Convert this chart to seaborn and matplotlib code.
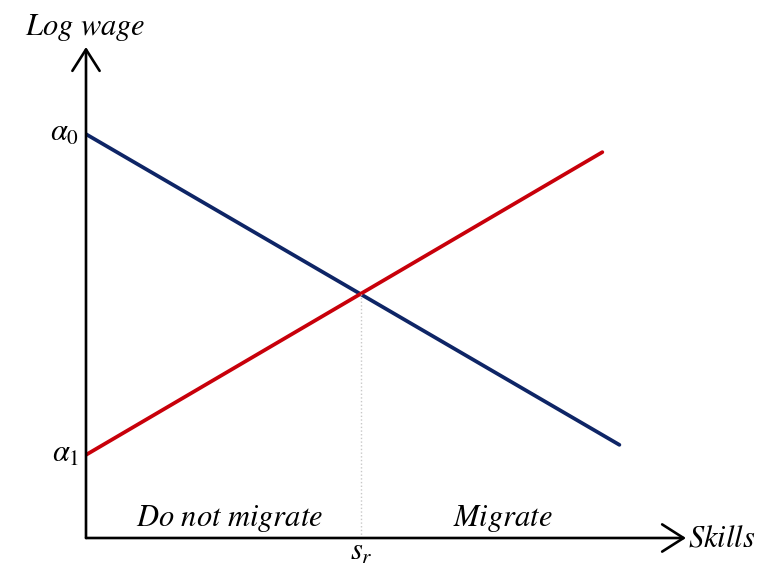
import numpy as np
import pandas as pd
import matplotlib
matplotlib.use("Agg")
import matplotlib.pyplot as plt
import seaborn as sns

# values (skill units on x, log-wage units on y)
alpha0 = 10.1
alpha1 = 2.08
s_r = 5.0
w_r = 6.1
stay_x = [0.0, 9.69]
stay_y = [alpha0, 2.33]
move_x = [0.0, 9.38]
move_y = [alpha1, 9.65]
x_max = 10.9
y_max = 12.28

df = pd.concat([
    pd.DataFrame({"skills": stay_x, "wage": stay_y, "line": "stay"}),
    pd.DataFrame({"skills": move_x, "wage": move_y, "line": "move"}),
])

sns.set_theme(style="white")
plt.rcParams["mathtext.fontset"] = "stix"
plt.rcParams["font.family"] = ["STIXGeneral", "DejaVu Serif"]
plt.rcParams["text.color"] = "black"

fig = plt.figure(figsize=(7.58, 5.70), dpi=100)
ax = fig.add_axes([86 / 758, 32 / 570, 600 / 758, 491 / 570])

sns.lineplot(data=df, x="skills", y="wage", hue="line",
             palette={"stay": "#0e2566", "move": "#c8000a"},
             linewidth=2.7, legend=False, ax=ax)

ax.plot([s_r, s_r], [0, w_r], color="#c8c8c8", linestyle=":", linewidth=1.0)

ax.set_xlim(0, x_max)
ax.set_ylim(0, y_max)
for sp in ax.spines.values():
    sp.set_visible(False)
ax.set_xticks([])
ax.set_yticks([])
ax.set_xlabel("")
ax.set_ylabel("")

arrow = dict(arrowstyle="->,head_length=0.55,head_width=0.35", color="black",
             lw=1.9, mutation_scale=28, shrinkA=0, shrinkB=0)
ax.annotate("", xy=(x_max, 0), xytext=(0, 0), arrowprops=arrow, annotation_clip=False)
ax.annotate("", xy=(0, y_max), xytext=(0, 0), arrowprops=arrow, annotation_clip=False)

fs = 22
ax.text(-0.02, 12.78, r"$Log\ wage$", ha="center", va="center", fontsize=fs, clip_on=False)
ax.text(x_max + 0.04, -0.05, r"$Skills$", ha="left", va="center", fontsize=fs, clip_on=False)
ax.text(-0.13, alpha0, r"$\alpha_0$", ha="right", va="center", fontsize=fs, clip_on=False)
ax.text(-0.13, alpha1, r"$\alpha_1$", ha="right", va="center", fontsize=fs, clip_on=False)
ax.text(s_r, -0.38, r"$s_r$", ha="center", va="center", fontsize=fs, clip_on=False)
ax.text(2.6, 0.48, r"$Do\ not\ migrate$", ha="center", va="center", fontsize=fs)
ax.text(7.58, 0.48, r"$Migrate$", ha="center", va="center", fontsize=fs)

fig.savefig("out.png", dpi=100)
